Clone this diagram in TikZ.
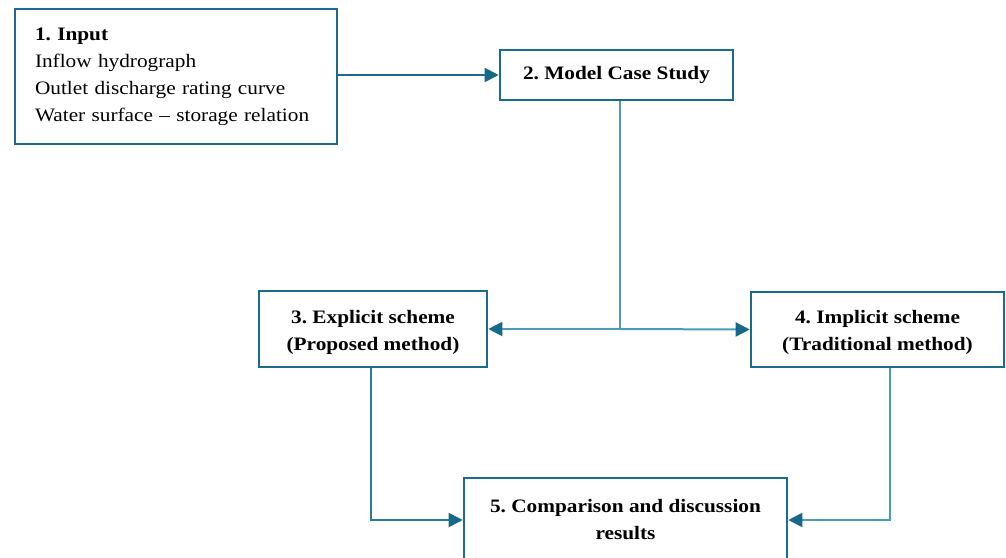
\documentclass[tikz,border=0pt]{standalone}
\usepackage{fontspec}
\setmainfont{Liberation Serif}[FakeStretch=1.12]
\usetikzlibrary{arrows.meta}
\definecolor{boxc}{HTML}{1C6B8B}
\definecolor{linec}{HTML}{4A9DB5}
\definecolor{linedk}{HTML}{2A7C9C}
\definecolor{tipc}{HTML}{17698A}
\begin{document}
\frenchspacing
\begin{tikzpicture}[x=1pt,y=-1pt,
  box/.style={draw=boxc,line width=2.6pt,inner sep=0pt,align=center,font=\fontsize{19}{27}\selectfont},
  conn/.style={draw=#1,line width=2pt},
  tipped/.style={-{Triangle[length=14pt,width=14pt,fill=tipc,color=tipc]}}]
\useasboundingbox (0,0) rectangle (1006,557);
\node[box,minimum width=322pt,minimum height=135pt,text width=282pt,align=left,inner xsep=20pt] (in) at (176,76.5)
  {\textbf{1. Input}\\Inflow hydrograph\\Outlet discharge rating curve\\Water surface -- storage relation};
\node[box,minimum width=233pt,minimum height=50pt] (cs) at (616.5,75) {\textbf{2. Model Case Study}};
\node[box,minimum width=228pt,minimum height=76pt] (ex) at (373,329) {\rule{0pt}{20pt}\textbf{3. Explicit scheme}\\\textbf{(Proposed method)}};
\node[box,minimum width=253pt,minimum height=75pt] (im) at (877.5,329.5) {\rule{0pt}{20pt}\textbf{4. Implicit scheme}\\\textbf{(Traditional method)}};
\node[box,minimum width=323pt,minimum height=84pt] (cr) at (625.5,520) {\textbf{5. Comparison and discussion}\\\textbf{results}};
\coordinate (j) at ([xshift=3pt]cs.south |- ex.east);
\draw[conn=boxc,tipped] (cs.west -| in.east) -- (cs.west);
\draw[conn=linec] ([xshift=3pt]cs.south) -- (j);
\draw[conn=linec,tipped] (j) -- (ex.east);
\draw[conn=linec,tipped] (j) -- (im.west);
\draw[conn=linedk,tipped] ([xshift=-2pt]ex.south) |- (cr.west);
\draw[conn=linec,tipped] ([xshift=12pt]im.south) |- (cr.east);
\end{tikzpicture}
\end{document}
